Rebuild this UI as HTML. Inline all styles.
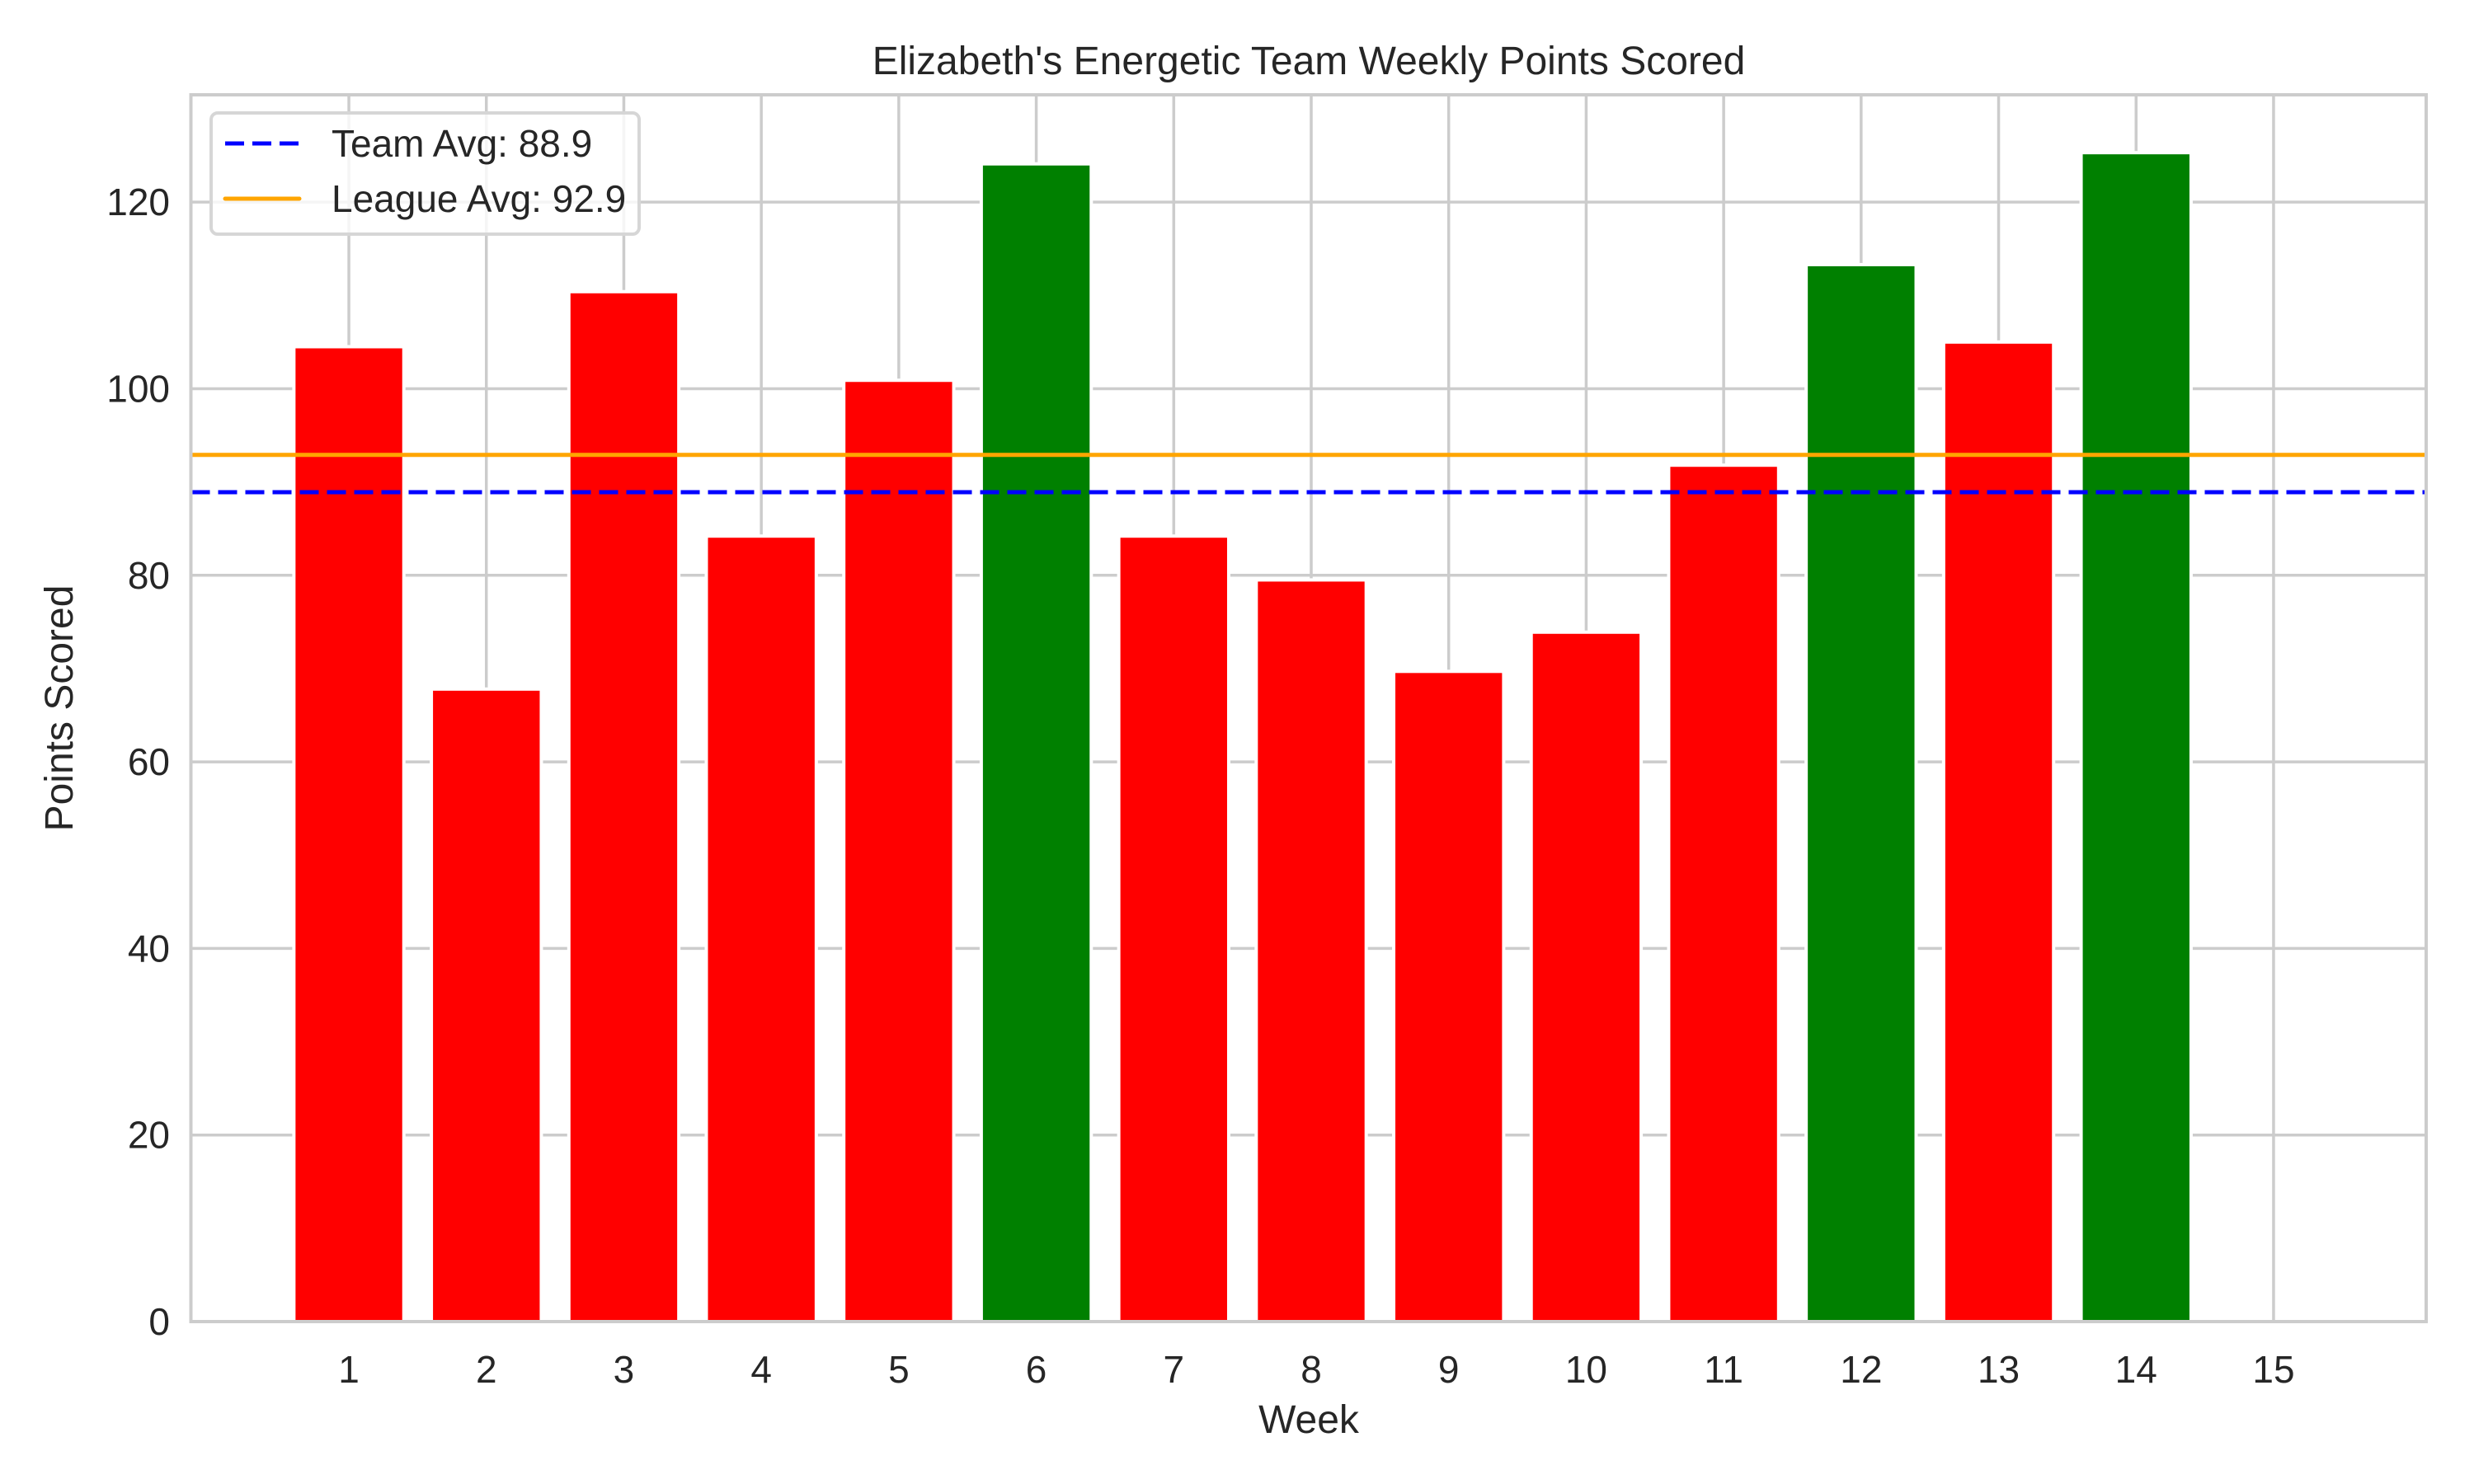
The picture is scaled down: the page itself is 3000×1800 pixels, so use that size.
<!DOCTYPE html>
<html><head><meta charset="utf-8"><style>html,body{margin:0;padding:0;background:#fff}svg{display:block}text{font-family:"Liberation Sans",Arial,sans-serif;fill:#262626}</style></head>
<body>
<svg id="chart" xmlns="http://www.w3.org/2000/svg" width="3000" height="1800" viewBox="0 0 3000 1800">
<rect width="3000" height="1800" fill="#fff"/>
<g id="grid"></g><g id="bars"></g><g id="lines"></g>
<rect x="231.5" y="115" width="2710.5" height="1488" fill="none" stroke="#cccccc" stroke-width="4"/>
<g id="ticks"></g>
<text x="1587" y="90" font-size="48" text-anchor="middle">Elizabeth's Energetic Team Weekly Points Scored</text>
<text x="1587" y="1738" font-size="48" text-anchor="middle">Week</text>
<text x="0" y="0" font-size="48" text-anchor="middle" transform="translate(88,859) rotate(-90)">Points Scored</text>
<g>
<rect x="256" y="137" width="519" height="147" rx="8" fill="#fff" fill-opacity="0.8" stroke="#d6d6d6" stroke-width="4"/>
<line x1="273" y1="174" x2="363" y2="174" stroke="#0000ff" stroke-width="5" stroke-dasharray="23,10"/>
<text x="402" y="190" font-size="46">Team Avg: 88.9</text>
<line x1="273" y1="241" x2="363" y2="241" stroke="#ffa500" stroke-width="5" stroke-linecap="round"/>
<text x="402" y="257" font-size="46">League Avg: 92.9</text>
</g>
</svg>
<script>
const weeks = [1,2,3,4,5,6,7,8,9,10,11,12,13,14,15];
const points = [104.5,67.8,110.4,84.2,100.9,124.1,84.2,79.5,69.7,73.9,91.8,113.3,105.0,125.3,0];
const barColors = ["red","red","red","red","red","green","red","red","red","red","red","green","red","green","red"];
const yTicks = [0,20,40,60,80,100,120];
const teamAvg = [88.9];
const leagueAvg = [92.9];

const NS="http://www.w3.org/2000/svg";
const L=231.5,R=2942,T=115,B=1603,xmin=-0.149,xmax=16.11,ymin=0,ymax=131.5;
function X(v){return L+(v-xmin)/(xmax-xmin)*(R-L);}
function Y(v){return B-(v-ymin)/(ymax-ymin)*(B-T);}
function mk(tag,attrs,parent){const e=document.createElementNS(NS,tag);for(const k in attrs)e.setAttribute(k,attrs[k]);document.getElementById(parent).appendChild(e);return e;}

yTicks.forEach(t=>{
  const g=mk('line',{x1:L,x2:R,y1:Y(t),y2:Y(t),stroke:'#cccccc','stroke-width':3.5},'grid');
  
  
  const tx=mk('text',{x:206,y:Y(t)+16,'font-size':46,'text-anchor':'end'},'ticks');
  tx.textContent=t;
  
  
});
weeks.forEach(w=>{
  const g=mk('line',{x1:X(w),x2:X(w),y1:T,y2:B,stroke:'#cccccc','stroke-width':3.5},'grid');
  
  
  const tx=mk('text',{x:X(w),y:1677,'font-size':46,'text-anchor':'middle'},'ticks');
  tx.textContent=w;
  
  
});
const bw=0.8;
weeks.forEach((w,i)=>{
  const v=points[i];
  if(v<=0)return;
  const b=mk('rect',{x:X(w-bw/2),y:Y(v),width:X(w+bw/2)-X(w-bw/2),height:Y(0)-Y(v),fill:barColors[i],stroke:'#fff','stroke-width':4},'bars');
  
  
});
const la=mk('line',{x1:L,x2:R,y1:Y(leagueAvg[0]),y2:Y(leagueAvg[0]),stroke:'#ffa500','stroke-width':5},'lines');


const ta=mk('line',{x1:L,x2:R,y1:Y(teamAvg[0]),y2:Y(teamAvg[0]),stroke:'#0000ff','stroke-width':5,'stroke-dasharray':'23,10'},'lines');


</script>
</body></html>
